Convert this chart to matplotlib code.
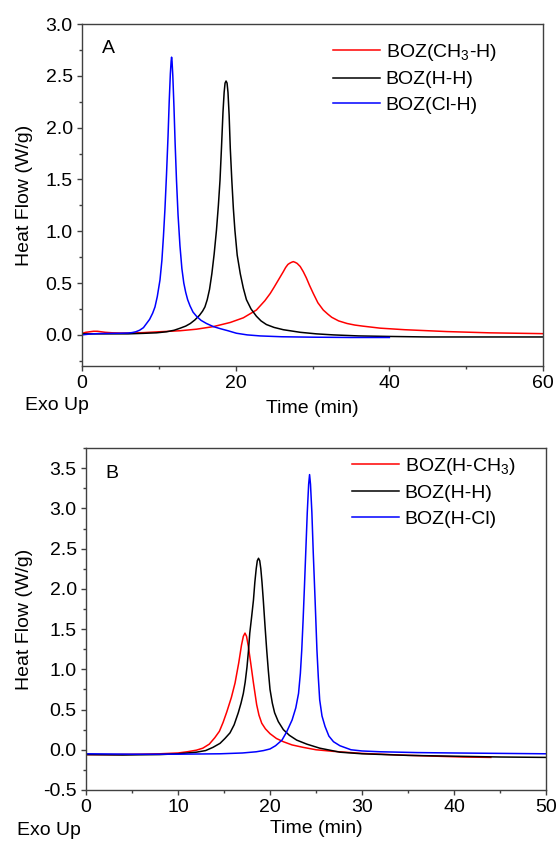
import matplotlib
matplotlib.use('Agg')
import matplotlib.pyplot as plt
from matplotlib.ticker import MultipleLocator

plt.rcParams['font.family'] = ['Liberation Sans', 'DejaVu Sans']
plt.rcParams['mathtext.default'] = 'regular'
plt.rcParams['axes.unicode_minus'] = False
plt.rcParams['font.size'] = 14

# panel A data (time in min, heat flow in W/g)
a_red_x = [0, 0.5, 1, 1.5, 2, 2.5, 3, 4, 5, 6.25, 8, 10, 12.75, 14.9, 17.1, 19.3, 21, 22.7, 23.8,
           24.5, 25, 25.4, 25.8, 26.2, 26.5, 26.8, 27.0, 27.25, 27.5, 27.75, 28.0, 28.4, 28.8,
           29.2, 29.6, 30.1, 30.7, 31.4, 32.0, 32.5, 33.4, 34.5, 35.5, 36.5, 38.8, 42, 47.5, 53, 60]
a_red_y = [0.015, 0.025, 0.03, 0.035, 0.035, 0.03, 0.025, 0.02, 0.018, 0.018, 0.022, 0.03, 0.04,
           0.055, 0.08, 0.12, 0.165, 0.24, 0.33, 0.4, 0.46, 0.51, 0.56, 0.61, 0.65, 0.68, 0.69,
           0.70, 0.707, 0.70, 0.69, 0.66, 0.61, 0.55, 0.48, 0.40, 0.31, 0.24, 0.2, 0.17, 0.135,
           0.11, 0.095, 0.085, 0.065, 0.05, 0.032, 0.02, 0.012]

a_black_x = [0, 3, 6, 8, 9.7, 11, 12, 12.75, 13.5, 14.1, 14.7, 15.3, 15.7, 16.0, 16.3, 16.6, 16.9,
             17.2, 17.5, 17.75, 17.96, 18.15, 18.35, 18.5, 18.62, 18.75, 18.88, 19.0, 19.15, 19.3,
             19.5, 19.7, 19.9, 20.2, 20.6, 21.0, 21.4, 22.0, 22.7, 23.3, 24.0, 25.0, 26.2, 28.4,
             30.5, 32.7, 36, 40, 45, 50, 55, 60]
a_black_y = [0.01, 0.01, 0.01, 0.015, 0.02, 0.03, 0.045, 0.064, 0.085, 0.11, 0.145, 0.19, 0.23,
             0.27, 0.34, 0.44, 0.59, 0.78, 1.01, 1.25, 1.49, 1.8, 2.15, 2.34, 2.43, 2.45, 2.43,
             2.34, 2.12, 1.8, 1.49, 1.22, 1.01, 0.77, 0.59, 0.45, 0.34, 0.25, 0.18, 0.135, 0.1,
             0.072, 0.05, 0.025, 0.01, 0.0, -0.01, -0.015, -0.02, -0.02, -0.02, -0.02]

a_blue_x = [0, 1, 2, 3, 4, 5, 6, 6.5, 7, 7.5, 8, 8.4, 8.8, 9.2, 9.5, 9.8, 10.15, 10.4, 10.6, 10.8,
            11.0, 11.2, 11.35, 11.5, 11.6, 11.66, 11.72, 11.82, 11.97, 12.12, 12.3, 12.5, 12.75,
            13.0, 13.25, 13.5, 13.75, 14.06, 14.45, 14.9, 15.5, 16.2, 17.1, 18.0, 19.0, 20.1,
            21.5, 23.2, 26, 30, 35, 40]
a_blue_y = [0.0, 0.008, 0.012, 0.014, 0.015, 0.016, 0.018, 0.022, 0.03, 0.045, 0.07, 0.11, 0.15,
            0.21, 0.27, 0.37, 0.53, 0.72, 0.95, 1.22, 1.55, 1.92, 2.25, 2.52, 2.64, 2.68, 2.64,
            2.5, 2.2, 1.85, 1.49, 1.16, 0.86, 0.64, 0.5, 0.41, 0.34, 0.28, 0.22, 0.18, 0.14, 0.11,
            0.08, 0.06, 0.04, 0.016, 0.0, -0.01, -0.018, -0.022, -0.025, -0.025]

# panel B data
b_red_x = [0, 3, 6, 8, 10, 11, 12, 12.7, 13.4, 14.0, 14.5, 14.9, 15.3, 15.8, 16.2, 16.6, 16.9,
           17.1, 17.28, 17.45, 17.65, 17.9, 18.2, 18.55, 18.8, 19.1, 19.5, 20.0, 20.7, 21.45,
           22.4, 23.6, 25, 26.9, 30, 34, 38, 41, 44]
b_red_y = [-0.06, -0.06, -0.055, -0.05, -0.04, -0.025, -0.005, 0.02, 0.07, 0.15, 0.23, 0.34,
           0.47, 0.65, 0.83, 1.08, 1.3, 1.41, 1.45, 1.41, 1.28, 1.08, 0.83, 0.56, 0.43, 0.33,
           0.26, 0.2, 0.14, 0.1, 0.06, 0.03, 0.0, -0.02, -0.045, -0.065, -0.08, -0.09, -0.095]

b_black_x = [0, 4, 8, 10, 11, 12, 13, 13.8, 14.57, 15.1, 15.65, 16.1, 16.55, 16.85, 17.1, 17.3,
             17.5, 17.65, 17.8, 18.0, 18.2, 18.35, 18.5, 18.62, 18.75, 18.88, 19.0, 19.13, 19.27,
             19.45, 19.64, 19.82, 20.0, 20.25, 20.5, 20.9, 21.45, 22.1, 22.9, 24.0, 25.4, 27.6,
             30, 35, 40, 45, 50]
b_black_y = [-0.06, -0.065, -0.06, -0.05, -0.04, -0.03, -0.01, 0.03, 0.08, 0.14, 0.21, 0.31,
             0.46, 0.58, 0.70, 0.84, 1.03, 1.22, 1.45, 1.65, 1.86, 2.08, 2.25, 2.35, 2.38, 2.35,
             2.25, 2.08, 1.86, 1.55, 1.24, 0.98, 0.75, 0.58, 0.46, 0.35, 0.25, 0.18, 0.12, 0.07,
             0.02, -0.03, -0.05, -0.07, -0.08, -0.09, -0.095]

b_blue_x = [0, 5, 10, 14.57, 17, 18.5, 19.3, 20.0, 20.6, 21.3, 21.8, 22.4, 22.8, 23.1, 23.3,
            23.45, 23.6, 23.75, 23.9, 24.05, 24.2, 24.3, 24.4, 24.55, 24.7, 24.9, 25.0, 25.1,
            25.25, 25.4, 25.65, 25.98, 26.4, 26.9, 27.6, 28.8, 30, 32, 36, 40, 45, 50]
b_blue_y = [-0.05, -0.055, -0.055, -0.05, -0.04, -0.025, -0.01, 0.01, 0.05, 0.12, 0.22, 0.37,
            0.52, 0.70, 0.95, 1.24, 1.62, 2.05, 2.5, 2.95, 3.3, 3.42, 3.3, 2.95, 2.45, 1.86, 1.55,
            1.24, 0.9, 0.62, 0.42, 0.29, 0.17, 0.10, 0.05, 0.0, -0.015, -0.025, -0.035, -0.04,
            -0.045, -0.05]

labels_a = ['BOZ(CH$_3$-H)', 'BOZ(H-H)', 'BOZ(Cl-H)']
labels_b = ['BOZ(H-CH$_3$)', 'BOZ(H-H)', 'BOZ(H-Cl)']

fig = plt.figure(figsize=(5.57, 8.46), dpi=100)
ax_a = fig.add_axes([0.1472, 0.5674, 0.8277, 0.4042])
ax_b = fig.add_axes([0.1544, 0.0662, 0.8259, 0.4042])

ax_a.plot(a_red_x, a_red_y, color='#ff0000', lw=1.1, label=labels_a[0])
ax_a.plot(a_black_x, a_black_y, color='black', lw=1.1, label=labels_a[1])
ax_a.plot(a_blue_x, a_blue_y, color='#0000ff', lw=1.1, label=labels_a[2])
ax_a.set_xlim(0, 60)
ax_a.set_ylim(-0.3, 3.0)
ax_a.xaxis.set_major_locator(MultipleLocator(20))
ax_a.xaxis.set_minor_locator(MultipleLocator(10))
ax_a.yaxis.set_major_locator(MultipleLocator(0.5))
ax_a.yaxis.set_minor_locator(MultipleLocator(0.25))
ax_a.yaxis.set_major_formatter('{x:.1f}')

ax_b.plot(b_red_x, b_red_y, color='#ff0000', lw=1.1, label=labels_b[0])
ax_b.plot(b_black_x, b_black_y, color='black', lw=1.1, label=labels_b[1])
ax_b.plot(b_blue_x, b_blue_y, color='#0000ff', lw=1.1, label=labels_b[2])
ax_b.set_xlim(0, 50)
ax_b.set_ylim(-0.5, 3.75)
ax_b.xaxis.set_major_locator(MultipleLocator(10))
ax_b.xaxis.set_minor_locator(MultipleLocator(5))
ax_b.yaxis.set_major_locator(MultipleLocator(0.5))
ax_b.yaxis.set_minor_locator(MultipleLocator(0.25))
ax_b.yaxis.set_major_formatter('{x:.1f}')

panels = [(ax_a, 'A', (0.916, 0.97), 6, 9), (ax_b, 'B', (0.951, 1.0), 3, 7)]
for ax, letter, anchor, xpad, ypad in panels:
    for s in ax.spines.values():
        s.set_color('#404040')
        s.set_linewidth(1.0)
    ax.tick_params(which='major', direction='out', length=3.6, width=1.0, color='#404040',
                   labelsize=14, pad=3)
    ax.tick_params(which='minor', direction='out', length=2.2, width=1.0, color='#404040')
    ax.tick_params(top=False, right=False, which='both')
    ax.set_xlabel('Time (min)', fontsize=14, labelpad=xpad)
    ax.set_ylabel('Heat Flow (W/g)', fontsize=14, labelpad=ypad)
    ax.text(0.057, 0.927, letter, transform=ax.transAxes, ha='center', va='center',
            fontsize=14)
    ax.legend(loc='upper right', frameon=False, fontsize=14, handlelength=2.4,
              handletextpad=0.3, labelspacing=0.4, borderaxespad=0.0,
              bbox_to_anchor=anchor)

fig.text(0.045, 0.515, 'Exo Up', ha='left', va='baseline', fontsize=14)
fig.text(0.0305, 0.013, 'Exo Up', ha='left', va='baseline', fontsize=14)

fig.savefig('out.png', dpi=100)
